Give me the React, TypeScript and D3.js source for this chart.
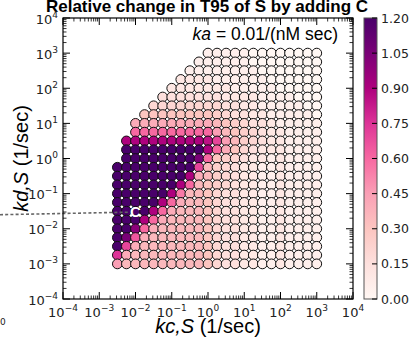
import React from 'react';
import * as d3 from 'd3';

// log10 of kc,S (columns) and kd,S (rows, top to bottom)
const kcExp = [-2.5, -2.25, -2, -1.75, -1.5, -1.25, -1, -0.75, -0.5, -0.25, 0, 0.25, 0.5, 0.75, 1, 1.25, 1.5, 1.75, 2, 2.25, 2.5, 2.75, 3];
const kdExp = [3, 2.75, 2.5, 2.25, 2, 1.75, 1.5, 1.25, 1, 0.75, 0.5, 0.25, 0, -0.25, -0.5, -0.75, -1, -1.25, -1.5, -1.75, -2, -2.25, -2.5, -2.75, -3];

// one char per cell: '.' = no point, 'a'..'y' = relative change 0.00 .. 1.20 (step 0.05)
const valueRows = [
  '..........bbbbbaaaaaaaa',
  '.........bbbbbbaaaaaaaa',
  '........bbbbbbbbaaaaaaa',
  '.......ccccbbbbbbaaaaaa',
  '......cccccccbbbbbaaaaa',
  '.....dddddddccccbbbbaaa',
  '....eeeeeeeeddccbbbbbaa',
  '...ggggggggfeddccbbbbba',
  '..iiiiiiiiihgfeddcbbbbb',
  '..mmmmmmmmmjhgfedccbbbb',
  '.sssssssssrojhfedccbbbb',
  '.yyyyyyyyysmigedcccbbbb',
  '.yyyyyyyyvmgfedccbcbbbb',
  'yyyyyyyyyohfedccbbcbbbb',
  'yyyyyyyysihfedccbbcbbbb',
  'yyyyyyysmhgfedccbbcbbbb',
  'yyyyyyslhhgeddccbbcbbbb',
  'yyyyysmihhgeddccbbcbbbb',
  'yyyysmihhhgeddccbbcbbbb',
  'yyysmihhhhgeddccbbcbbbb',
  'yyumihhhhhgeddccbbcbbbb',
  'yvnihhhhhhgeddccbbcbbbb',
  'yoihhhhhhhgeddccbbcbbbb',
  'pihhhhhhhhgeddccbbcbbbb',
  'jhhhhhhhhhgeddccbbcbbbb',
];

const majorExp = [-4, -3, -2, -1, 0, 1, 2, 3, 4];
const minorMult = [2, 3, 4, 5, 6, 7, 8, 9];
const cbTicks = [0, 0.15, 0.3, 0.45, 0.6, 0.75, 0.9, 1.05, 1.2];
const cbLabels = ['0.00', '0.15', '0.30', '0.45', '0.60', '0.75', '0.90', '1.05', '1.20'];
const rdpu = ['#fff7f3', '#fde0dd', '#fcc5c0', '#fa9fb5', '#f768a1', '#dd3497', '#ae017e', '#7a0177', '#49006a'];
const markerPoint = { kc: 1e-2, kd: Math.pow(10, -1.5) };
const titleText = 'Relative change in T95 of S by adding C';
const kaText = ' = 0.01/(nM sec)';

const L = 63, R = 353, T = 18, B = 299;
const tickFont = 'DejaVu Sans, sans-serif';
const textFont = 'Liberation Sans, Arial, sans-serif';

export default function App() {
  const x = d3.scaleLog().domain([1e-4, 1e4]).range([L, R]);
  const y = d3.scaleLog().domain([1e-4, 1e4]).range([B, T]);
  const color = d3.scaleLinear<string>()
    .domain(rdpu.map((_, i) => (1.2 * i) / (rdpu.length - 1)))
    .range(rdpu)
    .clamp(true);
  const cbY = d3.scaleLinear().domain([0, 1.2]).range([B, T]);

  const cells: { cx: number; cy: number; v: number; k: string }[] = [];
  valueRows.forEach((row, i) => {
    row.split('').forEach((ch, j) => {
      if (ch === '.') return;
      const v = (ch.charCodeAt(0) - 97) * 0.05;
      cells.push({ cx: x(Math.pow(10, kcExp[j])), cy: y(Math.pow(10, kdExp[i])), v, k: `${i}-${j}` });
    });
  });

  const minors: number[] = [];
  majorExp.slice(0, -1).forEach((e) => minorMult.forEach((m) => minors.push(m * Math.pow(10, e))));

  const mx = x(markerPoint.kc);
  const my = y(markerPoint.kd);

  const expLabel = (e: number) => (e < 0 ? '\u2212' + Math.abs(e) : String(e));

  return (
    <svg width={415} height={342} style={{ position: 'absolute', left: 0, top: 0, background: '#fff' }}>
      <defs>
        <linearGradient id="cbgrad" x1="0" y1="1" x2="0" y2="0">
          {rdpu.map((c, i) => (
            <stop key={i} offset={`${(i / (rdpu.length - 1)) * 100}%`} stopColor={c} />
          ))}
        </linearGradient>
      </defs>
      <text x={207} y={12} textAnchor="middle" fontFamily={textFont} fontWeight="bold" fontSize={17}>
        {titleText}
      </text>

      {/* scatter cells */}
      {cells.map((c) => (
        <circle key={c.k} cx={c.cx} cy={c.cy} r={4.9} fill={color(c.v)} stroke="#111" strokeWidth={1} />
      ))}

      {/* marker C and dashed line */}
      <line x1={0} y1={y(Math.pow(10, -1.6))} x2={mx - 7} y2={my + 1} stroke="#666" strokeWidth={1.6} strokeDasharray="3,2.2" />
      <text x={mx} y={my + 5.5} textAnchor="middle" fontFamily={textFont} fontWeight="bold" fontSize={15} fill="#fff">
        C
      </text>

      {/* frame */}
      <rect x={L} y={T} width={R - L} height={B - T} fill="none" stroke="#000" strokeWidth={1.2} />

      {/* ticks */}
      {majorExp.map((e) => {
        const v = Math.pow(10, e);
        const px = x(v), py = y(v);
        return (
          <g key={'M' + e} stroke="#000" strokeWidth={1}>
            <line x1={px} x2={px} y1={B} y2={B - 7} />
            <line x1={px} x2={px} y1={T} y2={T + 7} />
            <line x1={L} x2={L + 7} y1={py} y2={py} />
            <line x1={R} x2={R - 7} y1={py} y2={py} />
          </g>
        );
      })}
      {minors.map((v, i) => {
        const px = x(v), py = y(v);
        return (
          <g key={'m' + i} stroke="#000" strokeWidth={0.8}>
            <line x1={px} x2={px} y1={B} y2={B - 3.5} />
            <line x1={px} x2={px} y1={T} y2={T + 3.5} />
            <line x1={L} x2={L + 3.5} y1={py} y2={py} />
            <line x1={R} x2={R - 3.5} y1={py} y2={py} />
          </g>
        );
      })}

      {/* tick labels */}
      {majorExp.map((e) => (
        <text key={'xl' + e} x={x(Math.pow(10, e))} y={317} textAnchor="middle" fontFamily={tickFont} fontSize={13} fill="#222">
          10<tspan fontSize={9} dy={-6}>{expLabel(e)}</tspan>
        </text>
      ))}
      {majorExp.map((e) => (
        <text key={'yl' + e} x={58} y={y(Math.pow(10, e)) + 5.5} textAnchor="end" fontFamily={tickFont} fontSize={13} fill="#222">
          10<tspan fontSize={9} dy={-6}>{expLabel(e)}</tspan>
        </text>
      ))}

      {/* axis labels */}
      <text x={208} y={333} textAnchor="middle" fontFamily={textFont} fontSize={20}>
        <tspan fontStyle="italic">kc,S</tspan> (1/sec)
      </text>
      <text transform={`translate(28, ${(T + B) / 2}) rotate(-90)`} textAnchor="middle" fontFamily={textFont} fontSize={20}>
        <tspan fontStyle="italic">kd,S</tspan> (1/sec)
      </text>

      {/* ka annotation */}
      <text x={338} y={40} textAnchor="end" fontFamily={textFont} fontSize={17.5}>
        <tspan fontStyle="italic">ka</tspan>{kaText}
      </text>

      {/* colorbar */}
      <rect x={364} y={T} width={13} height={B - T} fill="url(#cbgrad)" stroke="#555" strokeWidth={1} />
      {cbTicks.map((t, i) => (
        <g key={'cb' + i}>
          <line x1={372} x2={377} y1={cbY(t)} y2={cbY(t)} stroke="#000" strokeWidth={1} />
          <text x={381} y={cbY(t) + 4.5} fontFamily={tickFont} fontSize={12.5} fill="#222">
            {cbLabels[i]}
          </text>
        </g>
      ))}

      <text x={0} y={325} fontFamily={tickFont} fontSize={9} fill="#222">0</text>
    </svg>
  );
}
